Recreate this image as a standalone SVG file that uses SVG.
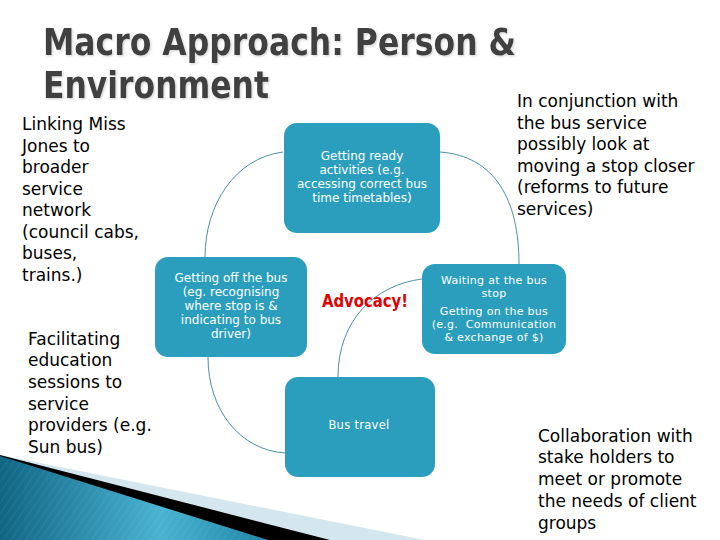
<svg xmlns="http://www.w3.org/2000/svg" width="720" height="540" viewBox="0 0 720 540">
  <defs>
    <linearGradient id="band" x1="0" y1="0" x2="1" y2="0">
      <stop offset="0" stop-color="#0f6683"/>
      <stop offset="0.6" stop-color="#4ab3d2"/>
      <stop offset="1" stop-color="#1f86a6"/>
    </linearGradient>
    <pattern id="stripes" width="6" height="6" patternUnits="userSpaceOnUse" patternTransform="rotate(35)">
      <rect width="6" height="6" fill="none"/>
      <line x1="0" y1="0" x2="0" y2="6" stroke="#ffffff" stroke-opacity="0.12" stroke-width="1"/>
    </pattern>
    <filter id="shadow" x="-5%" y="-20%" width="110%" height="140%">
      <feDropShadow dx="1.2" dy="1.2" stdDeviation="0.8" flood-color="#a8a8a8" flood-opacity="0.5"/>
    </filter>
  </defs>
  <style>
    .title { font-family: "DejaVu Sans Condensed", "DejaVu Sans", sans-serif; font-weight: bold; font-size: 38px; fill: #404040; }
    .body { font-family: "DejaVu Sans", Verdana, sans-serif; font-size: 17px; fill: #000000; }
    .node rect { fill: #2b9ebe; }
    .ntext { font-family: "DejaVu Sans", Verdana, sans-serif; font-size: 12px; fill: #ffffff; text-anchor: middle; }
    .stext { font-family: "DejaVu Sans", Verdana, sans-serif; font-size: 11px; fill: #ffffff; text-anchor: middle; letter-spacing: 0.3px; white-space: pre; }
    .conn path { fill: none; stroke: #4b8fa9; stroke-width: 1; }
    .adv { font-family: "DejaVu Sans Condensed", "DejaVu Sans", sans-serif; font-weight: bold; font-size: 17px; fill: #e00000; text-anchor: middle; }
  </style>
  <rect width="720" height="540" fill="#ffffff"/>

  <!-- bottom-left decoration -->
  <polygon points="0,455 425,540 0,540" fill="#d5e7ee"/>
  <polygon points="0,455 330,540 0,540" fill="#000000"/>
  <polygon points="0,456 268,540 0,540" fill="url(#band)"/>
  <polygon points="0,456 268,540 0,540" fill="url(#stripes)"/>

  <!-- title -->
  <g id="title" filter="url(#shadow)">
    <text class="title" x="43" y="55" textLength="473" lengthAdjust="spacingAndGlyphs">Macro Approach: Person &amp;</text>
    <text class="title" x="43" y="98" textLength="226" lengthAdjust="spacingAndGlyphs">Environment</text>
  </g>

  <!-- connectors -->
  <g id="connectors" class="conn">
    <path d="M283,152 C235,158 205,205 205,257"/>
    <path d="M440,152 C495,156 519,200 519,264"/>
    <path d="M422,279 C375,285 338,320 338,377"/>
    <path d="M208,357 C208,410 240,450 285,453"/>
  </g>

  <!-- nodes -->
  <g id="node-getting-ready" class="node">
    <rect x="284" y="123" width="156" height="110" rx="13"/>
    <text class="ntext" x="362" y="160">Getting ready</text>
    <text class="ntext" x="362" y="174">activities (e.g.</text>
    <text class="ntext" x="362" y="188">accessing correct bus</text>
    <text class="ntext" x="362" y="202">time timetables)</text>
  </g>
  <g id="node-getting-off" class="node">
    <rect x="155" y="257" width="152" height="100" rx="13"/>
    <text class="ntext" x="231" y="282">Getting off the bus</text>
    <text class="ntext" x="231" y="296">(eg. recognising</text>
    <text class="ntext" x="231" y="310">where stop is &amp;</text>
    <text class="ntext" x="231" y="324">indicating to bus</text>
    <text class="ntext" x="231" y="338">driver)</text>
  </g>
  <g id="node-waiting" class="node">
    <rect x="422" y="264" width="144" height="90" rx="13"/>
    <text class="stext" x="494" y="284">Waiting at the bus</text>
    <text class="stext" x="494" y="297">stop</text>
    <text class="stext" x="494" y="315">Getting on the bus</text>
    <text class="stext" x="494" y="328">(e.g.  Communication</text>
    <text class="stext" x="494" y="341">&amp; exchange of $)</text>
  </g>
  <g id="node-bus-travel" class="node">
    <rect x="285" y="377" width="150" height="100" rx="13"/>
    <text class="stext" x="359" y="429" style="font-size:11.5px">Bus travel</text>
  </g>

  <!-- centre label -->
  <g id="advocacy">
    <text class="adv" x="365" y="307" textLength="86" lengthAdjust="spacingAndGlyphs">Advocacy!</text>
  </g>

  <!-- side texts -->
  <g id="text-linking" class="body">
    <text x="22" y="130">Linking Miss</text>
    <text x="22" y="152">Jones to</text>
    <text x="22" y="173">broader</text>
    <text x="22" y="195">service</text>
    <text x="22" y="216">network</text>
    <text x="22" y="238">(council cabs,</text>
    <text x="22" y="259">buses,</text>
    <text x="22" y="281">trains.)</text>
  </g>
  <g id="text-facilitating" class="body">
    <text x="28" y="345">Facilitating</text>
    <text x="28" y="366">education</text>
    <text x="28" y="388">sessions to</text>
    <text x="28" y="410">service</text>
    <text x="28" y="431">providers (e.g.</text>
    <text x="28" y="453">Sun bus)</text>
  </g>
  <g id="text-conjunction" class="body">
    <text x="517" y="107">In conjunction with</text>
    <text x="517" y="129">the bus service</text>
    <text x="517" y="150">possibly look at</text>
    <text x="517" y="172">moving a stop closer</text>
    <text x="517" y="193">(reforms to future</text>
    <text x="517" y="215">services)</text>
  </g>
  <g id="text-collaboration" class="body">
    <text x="538" y="442">Collaboration with</text>
    <text x="538" y="463">stake holders to</text>
    <text x="538" y="485">meet or promote</text>
    <text x="538" y="507">the needs of client</text>
    <text x="538" y="529">groups</text>
  </g>
</svg>
